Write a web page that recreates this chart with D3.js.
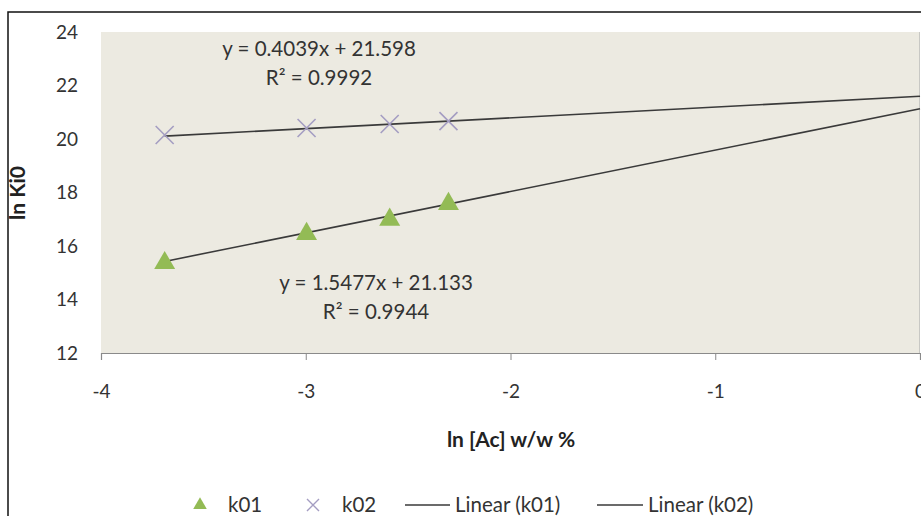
<!DOCTYPE html>
<html>
<head>
<meta charset="utf-8">
<script src="https://cdn.jsdelivr.net/npm/d3@7"></script>
<style>
  body { margin: 0; background: #fff; }
  svg { display: block; font-family: Lato, 'Open Sans', sans-serif; }
</style>
</head>
<body>
<div id="chart"></div>
<script>
// data
const xValues = [-3.689, -2.996, -2.590, -2.303];
const k01 = [15.40, 16.49, 17.02, 17.61];
const k02 = [20.15, 20.41, 20.56, 20.67];
const seriesNames = ['k01', 'k02'];
const slopes = [1.5477, 0.4039];
const intercepts = [21.133, 21.598];
const eqLabels = [['y = 1.5477x + 21.133', 'R² = 0.9944'], ['y = 0.4039x + 21.598', 'R² = 0.9992']];
const xTicks = [-4, -3, -2, -1, 0];
const yTicks = [12, 14, 16, 18, 20, 22, 24];

const width = 921;
const height = 516;
const margin = { top: 32, left: 101, bottom: 163, right: 1 };

const svg = d3.select('#chart').append('svg')
  .attr('width', width)
  .attr('height', height);

// outer frame (right and bottom edges are cut off)
svg.append('rect')
  .attr('x', 8).attr('y', 12)
  .attr('width', 1000).attr('height', 600)
  .attr('fill', 'none')
  .attr('stroke', '#111')
  .attr('stroke-width', 1.5);

const x = d3.scaleLinear().domain([-4, 0]).range([margin.left, width - margin.right]);
const y = d3.scaleLinear().domain([12, 24]).range([height - margin.bottom, margin.top]);

svg.append('rect')
  .attr('x', x(-4)).attr('y', y(24))
  .attr('width', x(0) - x(-4)).attr('height', y(12) - y(24))
  .attr('fill', '#ECEAE1');

svg.append('line')
  .attr('x1', x(0) - 0.5).attr('x2', x(0) - 0.5)
  .attr('y1', y(24)).attr('y2', y(12))
  .attr('stroke', '#c8c8c4');

// x axis
const xAxis = svg.append('g')
  .attr('transform', `translate(0,${y(12)})`)
  .call(d3.axisBottom(x).tickValues(xTicks).tickSize(7).tickPadding(25).tickFormat(d => String(d)));
xAxis.select('.domain').attr('stroke', '#8a8a8a').attr('stroke-width', 1.2);
xAxis.selectAll('.tick line').attr('stroke', '#8a8a8a');
xAxis.selectAll('text').attr('font-size', 19).attr('fill', '#333').attr('font-family', 'Lato');

// y axis
const yAxis = svg.append('g')
  .attr('transform', `translate(${x(-4)},0)`)
  .call(d3.axisLeft(y).tickValues(yTicks).tickSize(0).tickPadding(23));
yAxis.select('.domain').remove();
yAxis.selectAll('text').attr('font-size', 19).attr('fill', '#333').attr('font-family', 'Lato');

// axis titles
svg.append('text')
  .attr('x', 511).attr('y', 447)
  .attr('text-anchor', 'middle')
  .attr('font-size', 21).attr('font-weight', 'bold').attr('fill', '#222')
  .text('ln [Ac] w/w %');

svg.append('text')
  .attr('transform', 'translate(25,193) rotate(-90)')
  .attr('text-anchor', 'middle')
  .attr('font-size', 21).attr('font-weight', 'bold').attr('fill', '#222')
  .text('ln Ki0');

// trend lines
const lineColor = '#3a3a3a';
slopes.forEach((m, i) => {
  svg.append('line')
    .attr('x1', x(xValues[0])).attr('y1', y(m * xValues[0] + intercepts[i]))
    .attr('x2', x(0)).attr('y2', y(intercepts[i]))
    .attr('stroke', lineColor)
    .attr('stroke-width', 1.6);
});

const green = '#93BB55';
const xColor = '#a49dc2';
const tri = d3.symbol().type(d3.symbolTriangle).size(190);

// k02 crosses
svg.append('g').selectAll('path')
  .data(xValues.map((d, i) => [d, k02[i]]))
  .join('path')
  .attr('transform', d => `translate(${x(d[0])},${y(d[1])})`)
  .attr('d', 'M-9,-9L9,9M-9,9L9,-9')
  .attr('stroke', xColor)
  .attr('stroke-width', 1.6)
  .attr('fill', 'none');

// k01 triangles
svg.append('g').selectAll('path')
  .data(xValues.map((d, i) => [d, k01[i]]))
  .join('path')
  .attr('transform', d => `translate(${x(d[0])},${y(d[1]) + 1})`)
  .attr('d', tri)
  .attr('fill', green);

// equation labels
const eqPos = [[376, 290], [319, 56]];
eqLabels.forEach((lines, i) => {
  lines.forEach((t, j) => {
    svg.append('text')
      .attr('x', eqPos[i][0]).attr('y', eqPos[i][1] + j * 29)
      .attr('text-anchor', 'middle')
      .attr('font-size', 20.5).attr('fill', '#333')
      .text(t);
  });
});

// legend
const ly = 505;
const leg = svg.append('g').attr('font-size', 20.5).attr('fill', '#333');
leg.append('path')
  .attr('transform', `translate(200,${ly})`)
  .attr('d', d3.symbol().type(d3.symbolTriangle).size(80))
  .attr('fill', green);
leg.append('text').attr('x', 228).attr('y', ly + 7).text(seriesNames[0]);
leg.append('path')
  .attr('transform', `translate(313,${ly})`)
  .attr('d', 'M-6,-6L6,6M-6,6L6,-6')
  .attr('stroke', xColor).attr('stroke-width', 1.4).attr('fill', 'none');
leg.append('text').attr('x', 342).attr('y', ly + 7).text(seriesNames[1]);
[[405, 450, 455], [597, 643, 648]].forEach((p, i) => {
  leg.append('line')
    .attr('x1', p[0]).attr('x2', p[1]).attr('y1', ly).attr('y2', ly)
    .attr('stroke', lineColor).attr('stroke-width', 1.5);
  leg.append('text').attr('x', p[2]).attr('y', ly + 7).text(`Linear (${seriesNames[i]})`);
});
</script>
</body>
</html>
